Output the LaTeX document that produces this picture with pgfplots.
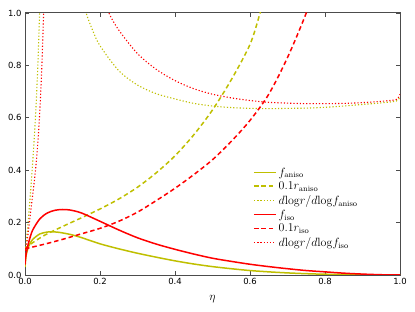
\documentclass[border=0pt]{standalone}
\usepackage[no-math]{fontspec}
\usepackage{pgfplots}
\pgfplotsset{compat=1.18}
\newfontfamily\tickfont{DejaVu Sans}
\definecolor{myY}{rgb}{0.75,0.75,0}
\definecolor{myR}{rgb}{1,0,0}
\pgfplotsset{
  dotY/.style={draw=myY, line width=1.1bp, dash pattern=on 1.2bp off 2bp},
  dotR/.style={draw=myR, line width=1.1bp, dash pattern=on 1.2bp off 2bp},
}
\begin{document}
\begin{tikzpicture}
\begin{axis}[
  scale only axis, width=375bp, height=262bp,
  xmin=0, xmax=1, ymin=0, ymax=1,
  xtick={0,0.2,0.4,0.6,0.8,1.0},
  ytick={0,0.2,0.4,0.6,0.8,1.0},
  tick align=inside, major tick length=4bp,
  axis line style={line width=1bp, draw=black!70},
  every tick/.style={line width=0.8bp, draw=black!70},
  ticklabel style={font=\tickfont\fontsize{8.5}{10}\selectfont},
  /pgf/number format/assume math mode=true,
  /pgf/number format/.cd, fixed, fixed zerofill, precision=1, /pgfplots/.cd,
  xlabel={$\eta$},
  label style={font=\fontsize{12}{14}\selectfont},
  xlabel style={yshift=-4bp},
  legend cell align=left,
  legend style={at={(0.6,0.425)}, anchor=north west, draw=none, fill=none,
    font=\fontsize{12}{14}\selectfont, row sep=0.3bp},
  legend image code/.code={\draw[mark repeat=2,mark phase=2] plot coordinates {(0bp,0.3bp) (11bp,0.3bp) (22bp,0.3bp)};},
]
% f_aniso
\addplot[draw=myY, line width=1.5bp, smooth] coordinates {
(0,0.03) (0.003,0.075) (0.01,0.11) (0.02,0.135) (0.04,0.157) (0.06,0.164)
(0.07,0.165) (0.09,0.163) (0.12,0.155) (0.15,0.143) (0.2,0.119) (0.25,0.1)
(0.3,0.083) (0.35,0.068) (0.4,0.054) (0.45,0.042) (0.5,0.032) (0.55,0.024)
(0.6,0.017) (0.65,0.012) (0.7,0.008) (0.75,0.005) (0.8,0.003) (0.9,0.001) (1.0,0)};
\addlegendentry{$f_{\mathrm{aniso}}$}
% 0.1 r_aniso
\addplot[draw=myY, line width=1.5bp, dash pattern=on 4.5bp off 3bp, smooth] coordinates {
(0,0.10) (0.01,0.113) (0.05,0.15) (0.1,0.185) (0.15,0.218) (0.2,0.252)
(0.25,0.29) (0.3,0.335) (0.35,0.39) (0.4,0.455) (0.45,0.535) (0.5,0.63)
(0.55,0.745) (0.6,0.88) (0.627,1.0) (0.65,1.11)};
\addlegendentry{$0.1r_{\mathrm{aniso}}$}
% dlogr/dlogf aniso
\addplot[dotY, smooth] coordinates {
(0,0.08) (0.005,0.15) (0.01,0.23) (0.015,0.32) (0.02,0.42) (0.025,0.53)
(0.03,0.66) (0.035,0.83) (0.04,1.05) (0.043,1.2)};
\addlegendentry{$d{\mathrm{log}}r/d{\mathrm{log}}f_{\mathrm{aniso}}$}
\addplot[dotY, smooth, forget plot] coordinates {
(0.15,1.08) (0.163,1.0) (0.18,0.935) (0.2,0.875) (0.25,0.78) (0.3,0.725)
(0.35,0.692) (0.4,0.672) (0.45,0.655) (0.5,0.645) (0.55,0.639) (0.6,0.636)
(0.65,0.635) (0.7,0.636) (0.75,0.637) (0.8,0.64) (0.85,0.645) (0.9,0.651)
(0.95,0.657) (0.99,0.664) (1.0,0.68)};
% f_iso
\addplot[draw=myR, line width=1.5bp, smooth] coordinates {
(0,0.04) (0.003,0.08) (0.01,0.125) (0.02,0.17) (0.04,0.215) (0.06,0.237)
(0.08,0.247) (0.1,0.25) (0.12,0.248) (0.15,0.237) (0.2,0.205) (0.25,0.172)
(0.3,0.142) (0.35,0.118) (0.4,0.098) (0.45,0.08) (0.5,0.064) (0.55,0.052)
(0.6,0.041) (0.65,0.032) (0.7,0.024) (0.75,0.017) (0.8,0.012) (0.85,0.007)
(0.9,0.0035) (0.95,0.001) (1.0,0)};
\addlegendentry{$f_{\mathrm{iso}}$}
% 0.1 r_iso
\addplot[draw=myR, line width=1.5bp, dash pattern=on 4.5bp off 3bp, smooth] coordinates {
(0,0.10) (0.05,0.117) (0.1,0.136) (0.15,0.157) (0.2,0.178) (0.25,0.205)
(0.3,0.24) (0.35,0.284) (0.4,0.331) (0.45,0.383) (0.5,0.44) (0.55,0.51)
(0.6,0.59) (0.65,0.69) (0.7,0.83) (0.75,1.0) (0.78,1.13)};
\addlegendentry{$0.1r_{\mathrm{iso}}$}
% dlogr/dlogf iso
\addplot[dotR, smooth] coordinates {
(0,0.08) (0.005,0.12) (0.01,0.18) (0.015,0.24) (0.02,0.3) (0.025,0.36)
(0.03,0.43) (0.035,0.52) (0.04,0.64) (0.045,0.8) (0.05,1.02) (0.053,1.2)};
\addlegendentry{$d{\mathrm{log}}r/d{\mathrm{log}}f_{\mathrm{iso}}$}
\addplot[dotR, smooth, forget plot] coordinates {
(0.21,1.07) (0.224,1.0) (0.25,0.935) (0.3,0.845) (0.35,0.785) (0.4,0.742)
(0.45,0.711) (0.5,0.69) (0.55,0.676) (0.6,0.666) (0.65,0.659) (0.7,0.656)
(0.75,0.654) (0.8,0.654) (0.85,0.655) (0.9,0.658) (0.95,0.663) (0.99,0.67) (1.0,0.69)};
\end{axis}
\pgfresetboundingbox
\path[use as bounding box] ([shift={(-25bp,-37bp)}]current axis.south west) rectangle ([shift={(15bp,13bp)}]current axis.north east);
\end{tikzpicture}
\end{document}
